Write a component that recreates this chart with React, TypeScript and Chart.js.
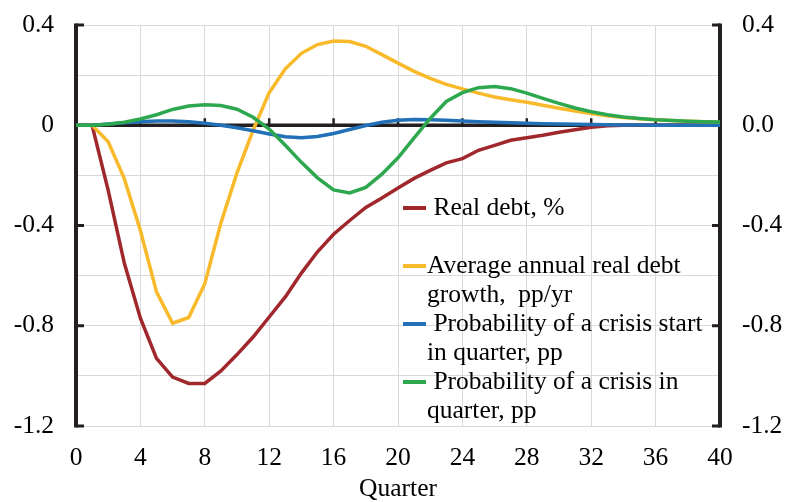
import React, { useEffect, useRef } from 'react';
import { Chart, registerables } from 'chart.js';

Chart.register(...registerables);

const quarters = [
  0, 1, 2, 3, 4, 5, 6, 7, 8, 9, 10, 11, 12, 13, 14, 15, 16, 17, 18, 19, 20,
  21, 22, 23, 24, 25, 26, 27, 28, 29, 30, 31, 32, 33, 34, 35, 36, 37, 38, 39, 40,
];

const realDebt = [
  0, 0, -0.26, -0.55, -0.77, -0.93, -1.005, -1.03, -1.03, -0.98, -0.915,
  -0.845, -0.765, -0.685, -0.59, -0.505, -0.435, -0.38, -0.328, -0.29, -0.25,
  -0.212, -0.18, -0.15, -0.133, -0.1, -0.08, -0.06, -0.05, -0.04, -0.028,
  -0.018, -0.008, -0.002, 0, 0, 0, 0, 0, 0, 0,
];

const avgGrowth = [
  0, 0, -0.066, -0.213, -0.42, -0.665, -0.79, -0.767, -0.632, -0.39, -0.19,
  -0.02, 0.13, 0.225, 0.287, 0.322, 0.336, 0.334, 0.315, 0.282, 0.248,
  0.215, 0.187, 0.163, 0.145, 0.128, 0.113, 0.102, 0.092, 0.08, 0.068,
  0.057, 0.047, 0.038, 0.031, 0.026, 0.022, 0.019, 0.016, 0.014, 0.012,
];

const crisisStart = [
  0, 0, 0.005, 0.01, 0.014, 0.017, 0.017, 0.014, 0.008, 0, -0.01,
  -0.022, -0.035, -0.046, -0.05, -0.045, -0.033, -0.017, -0.001, 0.012, 0.02,
  0.023, 0.022, 0.02, 0.017, 0.014, 0.012, 0.01, 0.008, 0.006, 0.005,
  0.004, 0.003, 0.002, 0.001, 0.001, 0, 0, 0, 0, 0,
];

const crisisProb = [
  0, 0, 0.004, 0.012, 0.025, 0.042, 0.063, 0.077, 0.082, 0.079, 0.064,
  0.032, -0.015, -0.08, -0.148, -0.21, -0.258, -0.27, -0.248, -0.195, -0.13,
  -0.05, 0.027, 0.095, 0.13, 0.15, 0.155, 0.146, 0.128, 0.107, 0.087,
  0.069, 0.054, 0.042, 0.033, 0.027, 0.022, 0.019, 0.016, 0.014, 0.013,
];

const seriesNames = [
  'Real debt, %',
  'Average annual real debt growth,  pp/yr',
  'Probability of a crisis start in quarter, pp',
  'Probability of a crisis in quarter, pp',
];

// legend lines (wrapped as in the reference); '' = blank line
const legendLines = [
  ' Real debt, %',
  '',
  'Average annual real debt',
  'growth,  pp/yr',
  ' Probability of a crisis start',
  'in quarter, pp',
  ' Probability of a crisis in',
  'quarter, pp',
];
const legendSwatchLine = [0, 2, 4, 6];

const seriesColors = ['#A0282D', '#F8BA2B', '#2170B8', '#2EA84F'];

const xTickValues = [0, 4, 8, 12, 16, 20, 24, 28, 32, 36, 40];
const yTickValues = [0.4, 0, -0.4, -0.8, -1.2];
const leftTickLabels = ['0.4', '0', '-0.4', '-0.8', '-1.2'];
const rightTickLabels = ['0.4', '0.0', '-0.4', '-0.8', '-1.2'];

const FONT = 'Liberation Serif';
const FONT_SIZE = 25.5;
const INK = '#231f20';

function labelFor(v: number, labels: string[]) {
  for (let i = 0; i < yTickValues.length; i++) {
    if (Math.abs(yTickValues[i] - v) < 1e-6) return labels[i];
  }
  return '';
}

const axisPlugin = {
  id: 'axisDecor',
  beforeDatasetsDraw(chart: any) {
    const { ctx, chartArea: ca, scales } = chart;
    const x = scales.x;
    const y = scales.y;
    ctx.save();
    ctx.strokeStyle = INK;
    ctx.lineCap = 'butt';
    const y0 = y.getPixelForValue(0);
    // zero line
    ctx.lineWidth = 3.5;
    ctx.beginPath();
    ctx.moveTo(ca.left, y0);
    ctx.lineTo(ca.right, y0);
    ctx.stroke();
    // x ticks on zero line
    ctx.lineWidth = 2.5;
    for (const q of xTickValues) {
      if (q === xTickValues[0] || q === xTickValues[xTickValues.length - 1]) continue;
      const px = x.getPixelForValue(q);
      ctx.beginPath();
      ctx.moveTo(px, y0);
      ctx.lineTo(px, y0 - 7);
      ctx.stroke();
    }
    // vertical axes
    ctx.lineWidth = 4;
    ctx.beginPath();
    ctx.moveTo(ca.left, ca.top - 1.5);
    ctx.lineTo(ca.left, ca.bottom + 1.5);
    ctx.moveTo(ca.right, ca.top - 1.5);
    ctx.lineTo(ca.right, ca.bottom + 1.5);
    ctx.stroke();
    // inward ticks
    ctx.lineWidth = 3;
    for (const v of yTickValues) {
      const py = y.getPixelForValue(v);
      ctx.beginPath();
      ctx.moveTo(ca.left, py);
      ctx.lineTo(ca.left + 8, py);
      ctx.moveTo(ca.right, py);
      ctx.lineTo(ca.right - 8, py);
      ctx.stroke();
    }
    ctx.restore();
  },
};

const legendPlugin = {
  id: 'customLegend',
  afterDraw(chart: any) {
    const { ctx } = chart;
    const startY = 208;
    const lineH = 29;
    const swatchX0 = 403;
    const swatchX1 = 426;
    const textX = 427;
    ctx.save();
    ctx.font = `${FONT_SIZE}px "${FONT}"`;
    ctx.fillStyle = '#000';
    ctx.textBaseline = 'middle';
    ctx.textAlign = 'left';
    legendLines.forEach((t, i) => {
      if (t) ctx.fillText(t, textX, startY + lineH * i);
    });
    ctx.lineWidth = 4;
    legendSwatchLine.forEach((li, si) => {
      const py = startY + lineH * li;
      ctx.strokeStyle = seriesColors[si];
      ctx.beginPath();
      ctx.moveTo(swatchX0, py);
      ctx.lineTo(swatchX1, py);
      ctx.stroke();
    });
    ctx.restore();
  },
};

export default function App() {
  const canvasRef = useRef<HTMLCanvasElement | null>(null);

  useEffect(() => {
    const canvas = canvasRef.current;
    if (!canvas) return;
    const seriesData = [realDebt, avgGrowth, crisisStart, crisisProb];
    const font = { family: FONT, size: FONT_SIZE };
    const chart = new Chart(canvas, {
      type: 'line',
      data: {
        datasets: seriesData.map((vals, i) => ({
          label: seriesNames[i],
          data: quarters.map((q, k) => ({ x: q, y: vals[k] })),
          borderColor: seriesColors[i],
          backgroundColor: seriesColors[i],
          borderWidth: 3.5,
          pointRadius: 0,
          tension: 0,
          fill: false,
          order: 4 - i,
          yAxisID: 'y',
        })),
      },
      options: {
        animation: false,
        responsive: false,
        devicePixelRatio: 1,
        layout: { padding: { top: 25, left: 0, right: 0, bottom: 0 } },
        plugins: {
          legend: { display: false },
          tooltip: { enabled: false },
        },
        scales: {
          x: {
            type: 'linear',
            min: 0,
            max: 40,
            afterFit: (s: any) => {
              s.height = 76;
            },
            afterBuildTicks: (s: any) => {
              s.ticks = xTickValues.map((v) => ({ value: v }));
            },
            ticks: {
              font,
              color: '#000',
              padding: 17,
              maxRotation: 0,
              autoSkip: false,
            },
            grid: { color: '#d9d9d9', lineWidth: 1, drawTicks: false },
            border: { display: false },
            title: {
              display: true,
              text: 'Quarter',
              font: { family: FONT, size: FONT_SIZE, lineHeight: 1 },
              color: '#000',
              padding: { top: 0, bottom: 0 },
            },
          },
          y: {
            position: 'left',
            min: -1.2,
            max: 0.4,
            afterFit: (s: any) => {
              s.width = 76;
              s.paddingTop = 0;
              s.paddingBottom = 0;
            },
            ticks: {
              stepSize: 0.2,
              font,
              color: '#000',
              padding: 22,
              autoSkip: false,
              callback: (v: any) => labelFor(Number(v), leftTickLabels),
            },
            grid: { color: '#d9d9d9', lineWidth: 1, drawTicks: false },
            border: { display: false },
          },
          y2: {
            position: 'right',
            min: -1.2,
            max: 0.4,
            afterFit: (s: any) => {
              s.width = 65;
              s.paddingTop = 0;
              s.paddingBottom = 0;
            },
            ticks: {
              stepSize: 0.2,
              font,
              color: '#000',
              padding: 22,
              autoSkip: false,
              callback: (v: any) => labelFor(Number(v), rightTickLabels),
            },
            grid: { display: false, drawTicks: false },
            border: { display: false },
          },
        },
      },
      plugins: [axisPlugin, legendPlugin],
    } as any);
    return () => chart.destroy();
  }, []);

  return (
    <div style={{ position: 'absolute', left: 0, top: 0, width: 785, height: 502, background: '#fff' }}>
      <canvas ref={canvasRef} width={785} height={502} style={{ display: 'block' }} />
    </div>
  );
}
